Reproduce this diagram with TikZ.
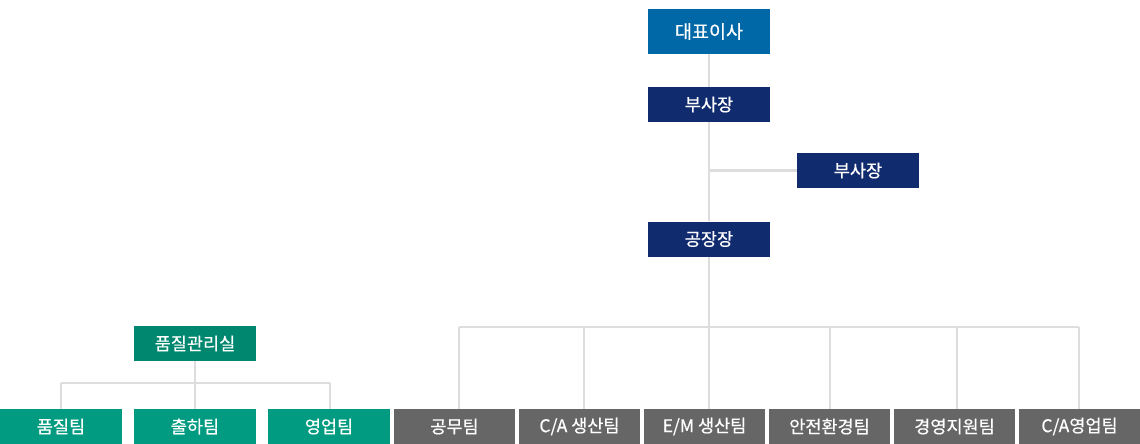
\documentclass[tikz,border=0pt]{standalone}
\usepackage{fontspec}
\setmainfont{Noto Sans CJK KR}
\newfontfamily\labelfont{Noto Sans CJK KR}[FakeBold=0.5]
\usepackage{tikz}

\definecolor{ceoblue}{HTML}{0068A6}
\definecolor{navy}{HTML}{112B6F}
\definecolor{qmgreen}{HTML}{00876F}
\definecolor{teamgreen}{HTML}{009B80}
\definecolor{teamgray}{HTML}{666666}
\definecolor{linegray}{HTML}{DDDDDD}

\tikzset{
    box/.style={text=white,inner sep=0pt,minimum width=122pt,minimum height=35pt,font=\labelfont\fontsize{17.5}{18}\selectfont},
    topbox/.style={box,fill=ceoblue,minimum height=45pt,font=\labelfont\fontsize{18.5}{19}\selectfont},
    navybox/.style={box,fill=navy},
    qmbox/.style={box,fill=qmgreen},
    greenbox/.style={box,fill=teamgreen},
    graybox/.style={box,fill=teamgray,minimum width=121pt},
    link/.style={draw=linegray,line width=2.5pt}
}

\begin{document}
\begin{tikzpicture}[x=1pt,y=-1pt]
    \useasboundingbox (0,0) rectangle (1140,444);

    % top of the tree
    \node[topbox] (ceo) at (709,31.5) {대표이사};
    \node[navybox] (vpa) at (709,104.5) {부사장};
    \node[navybox] (vpb) at (858,170.5) {부사장};
    \node[navybox] (plant) at (709,239) {공장장};

    % quality office
    \node[qmbox] (qm) at (195,343.5) {품질관리실};
    \node[greenbox] (qa) at (61,426.5) {품질팀};
    \node[greenbox] (ship) at (195,426.5) {출하팀};
    \node[greenbox] (sales) at (329,426.5) {영업팀};

    % teams under the plant
    \node[graybox] (works) at (454.5,426.5) {공무팀};
    \node[graybox] (caprod) at (579.5,426.5) {C/A 생산팀};
    \node[graybox] (emprod) at (704.5,426.5) {E/M 생산팀};
    \node[graybox] (safety) at (829.5,426.5) {안전환경팀};
    \node[graybox] (mgmt) at (954.5,426.5) {경영지원팀};
    \node[graybox] (casales) at (1079.5,426.5) {C/A영업팀};

    \coordinate (bar) at (709,327);
    \coordinate (qbar) at (195,383);

    \draw[link] (ceo.south) -- (vpa.north);
    \draw[link] (vpa.south) -- (plant.north);
    \draw[link] (vpa.south |- vpb.west) -- (vpb.west);
    \draw[link] (plant.south) -- (bar);
    \draw[link] (459,327) -- (1079,327);
    \draw[link] (459,327) -- (459,0 |- works.north);
    \draw[link] (584,327) -- (584,0 |- caprod.north);
    \draw[link] (709,327) -- (709,0 |- emprod.north);
    \draw[link] (830,327) -- (830,0 |- safety.north);
    \draw[link] (957,327) -- (957,0 |- mgmt.north);
    \draw[link] (1079,327) -- (1079,0 |- casales.north);

    \draw[link] (qm.south) -- (qbar);
    \draw[link] (61,383) -- (330,383);
    \draw[link] (61,383) -- (qa.north);
    \draw[link] (qbar) -- (ship.north);
    \draw[link] (330,383) -- (330,0 |- sales.north);
\end{tikzpicture}
\end{document}
